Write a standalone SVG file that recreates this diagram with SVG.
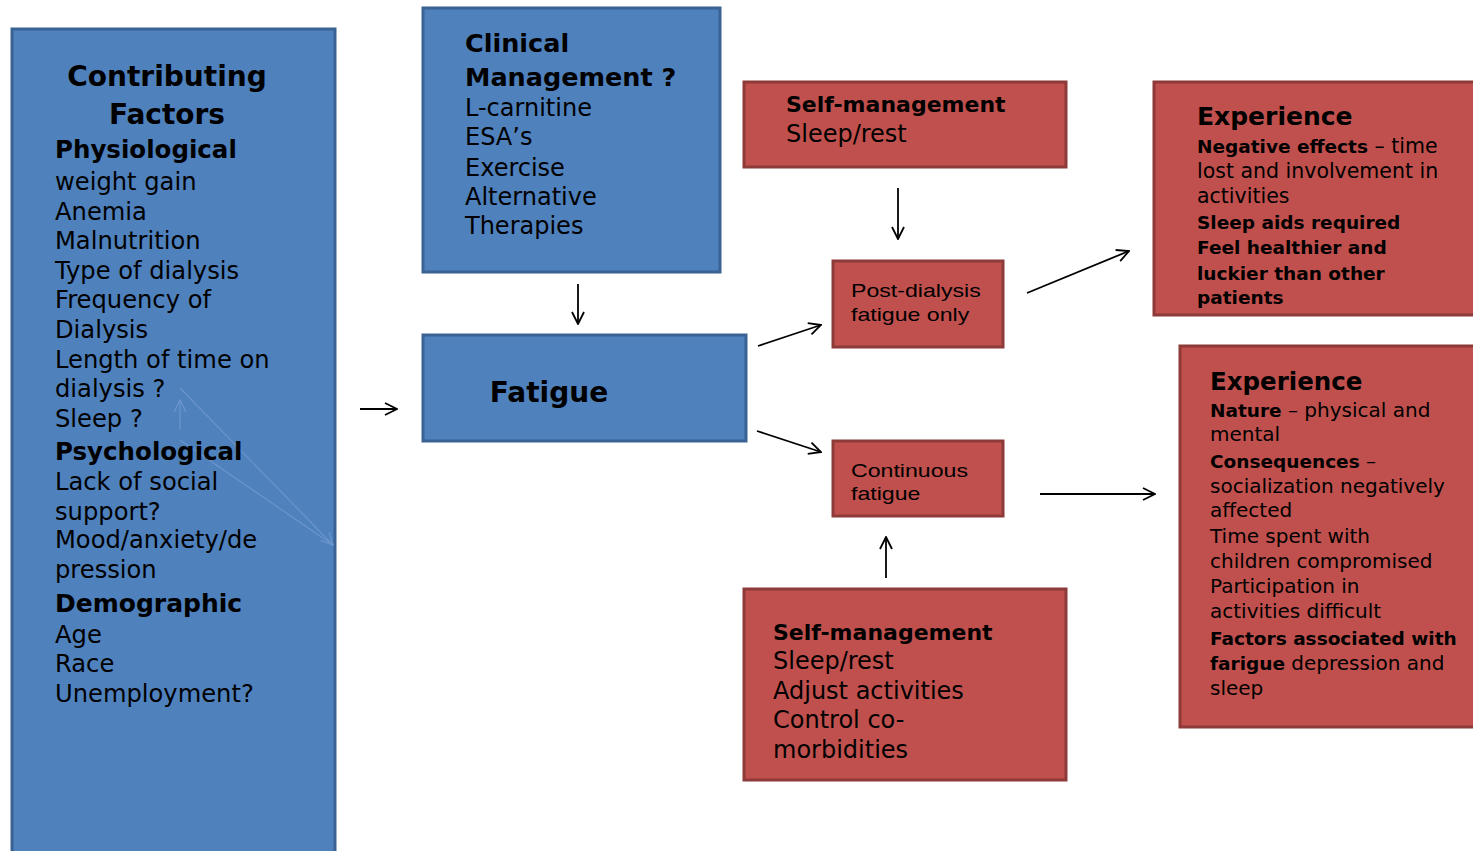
<svg xmlns="http://www.w3.org/2000/svg" width="1473" height="851" viewBox="0 0 1473 851">
<style>
.blue{fill:#4F81BD;stroke:#3A6293;stroke-width:3}
.red{fill:#C0504D;stroke:#8E3A38;stroke-width:3}
text{font-family:"DejaVu Sans",Verdana,sans-serif;fill:#000}
.b{font-weight:bold}
.ar{font-family:"Liberation Sans",Arial,sans-serif;font-size:18.5px}
.conn line{stroke:#000;stroke-width:1.8;marker-end:url(#arr)}
.faint{stroke:#6B96CC;stroke-width:1.2;fill:none}
</style>
<defs>
<marker id="arr" viewBox="0 0 14 14" refX="13" refY="7" markerWidth="14" markerHeight="14" markerUnits="userSpaceOnUse" orient="auto">
<path d="M1,1 L13,7 L1,13" fill="none" stroke="#000" stroke-width="1.8"/>
</marker>
<marker id="farr" viewBox="0 0 14 14" refX="13" refY="7" markerWidth="14" markerHeight="14" markerUnits="userSpaceOnUse" orient="auto">
<path d="M1,1 L13,7 L1,13" fill="none" stroke="#6B96CC" stroke-width="1.2"/>
</marker>
</defs>
<rect width="1473" height="851" fill="#fff"/>

<g id="contributing">
<rect class="blue" x="12" y="29" width="323" height="840"/>
<g class="faint">
<line x1="180" y1="388" x2="333" y2="545" marker-end="url(#farr)"/>
<line x1="180" y1="440" x2="333" y2="545"/>
<line x1="180" y1="430" x2="180" y2="400" marker-end="url(#farr)"/>
</g>
<text class="b" font-size="28" text-anchor="middle" x="167" y="86">Contributing</text>
<text class="b" font-size="28" text-anchor="middle" x="167" y="124">Factors</text>
<text class="b" font-size="24.5" x="55" y="158">Physiological</text>
<text class="b" font-size="24.5" x="55" y="460">Psychological</text>
<text class="b" font-size="25" x="55" y="612">Demographic</text>
<g font-size="24.2">
<text x="55" y="190">weight gain</text>
<text x="55" y="219.5">Anemia</text>
<text x="55" y="249">Malnutrition</text>
<text x="55" y="279">Type of dialysis</text>
<text x="55" y="308">Frequency of</text>
<text x="55" y="338">Dialysis</text>
<text x="55" y="368">Length of time on</text>
<text x="55" y="397">dialysis ?</text>
<text x="55" y="427">Sleep ?</text>
<text x="55" y="490">Lack of social</text>
<text x="55" y="520">support?</text>
<text x="55" y="548">Mood/anxiety/de</text>
<text x="55" y="578">pression</text>
<text x="55" y="643">Age</text>
<text x="55" y="672">Race</text>
<text x="55" y="702">Unemployment?</text>
</g>
</g>

<g id="clinical">
<rect class="blue" x="423" y="8" width="297" height="264"/>
<text class="b" font-size="25.5" x="465" y="52">Clinical</text>
<text class="b" font-size="25.5" x="465" y="86">Management ?</text>
<g font-size="24">
<text x="465" y="116">L-carnitine</text>
<text x="465" y="145">ESA’s</text>
<text x="465" y="176">Exercise</text>
<text x="465" y="205">Alternative</text>
<text x="465" y="234">Therapies</text>
</g>
</g>

<g id="fatigue">
<rect class="blue" x="423" y="335" width="323" height="106"/>
<text class="b" font-size="28" text-anchor="middle" x="549" y="402">Fatigue</text>
</g>

<g id="selfmgmt-top">
<rect class="red" x="744" y="82" width="322" height="85"/>
<text class="b" font-size="22" x="786" y="112">Self-management</text>
<text font-size="24" x="786" y="142">Sleep/rest</text>
</g>

<g id="post-dialysis">
<rect class="red" x="833" y="261" width="170" height="86"/>
<text class="ar" transform="translate(851,297) scale(1.25,1)">Post-dialysis</text>
<text class="ar" transform="translate(851,321) scale(1.25,1)">fatigue only</text>
</g>

<g id="continuous">
<rect class="red" x="833" y="441" width="170" height="75"/>
<text class="ar" transform="translate(851,477) scale(1.25,1)">Continuous</text>
<text class="ar" transform="translate(851,500) scale(1.25,1)">fatigue</text>
</g>

<g id="selfmgmt-bottom">
<rect class="red" x="744" y="589" width="322" height="191"/>
<text class="b" font-size="22" x="773" y="640">Self-management</text>
<g font-size="24">
<text x="773" y="669">Sleep/rest</text>
<text x="773" y="699">Adjust activities</text>
<text x="773" y="728">Control co-</text>
<text x="773" y="758">morbidities</text>
</g>
</g>

<g id="experience1">
<rect class="red" x="1154" y="82" width="330" height="233"/>
<text class="b" font-size="25" x="1197" y="125">Experience</text>
<g font-size="20.5">
<text x="1197" y="153"><tspan class="b" font-size="18.5">Negative effects</tspan> – time</text>
<text x="1197" y="178">lost and involvement in</text>
<text x="1197" y="203">activities</text>
</g>
<g font-size="18.5">
<text class="b" x="1197" y="229">Sleep aids required</text>
<text class="b" x="1197" y="254">Feel healthier and</text>
<text class="b" x="1197" y="280">luckier than other</text>
<text class="b" x="1197" y="304">patients</text>
</g>
</g>

<g id="experience2">
<rect class="red" x="1180" y="346" width="304" height="381"/>
<text class="b" font-size="24.5" x="1210" y="390">Experience</text>
<g font-size="20">
<text x="1210" y="417"><tspan class="b" font-size="18.5">Nature</tspan> – physical and</text>
<text x="1210" y="441">mental</text>
<text x="1210" y="468"><tspan class="b" font-size="18.5">Consequences</tspan> –</text>
<text x="1210" y="493">socialization negatively</text>
<text x="1210" y="517">affected</text>
<text x="1210" y="543">Time spent with</text>
<text x="1210" y="568">children compromised</text>
<text x="1210" y="593">Participation in</text>
<text x="1210" y="618">activities difficult</text>
<text class="b" font-size="18.5" x="1210" y="645">Factors associated with</text>
<text x="1210" y="670"><tspan class="b" font-size="18.5">farigue</tspan> depression and</text>
<text x="1210" y="695">sleep</text>
</g>
</g>

<g id="connectors" class="conn">
<line x1="360" y1="409" x2="397" y2="409"/>
<line x1="578" y1="284" x2="578" y2="324"/>
<line x1="898" y1="188" x2="898" y2="239"/>
<line x1="758" y1="346" x2="821" y2="325"/>
<line x1="757" y1="431" x2="821" y2="452"/>
<line x1="1027" y1="293" x2="1129" y2="251"/>
<line x1="1040" y1="494" x2="1155" y2="494"/>
<line x1="886" y1="578" x2="886" y2="537"/>
</g>
</svg>
